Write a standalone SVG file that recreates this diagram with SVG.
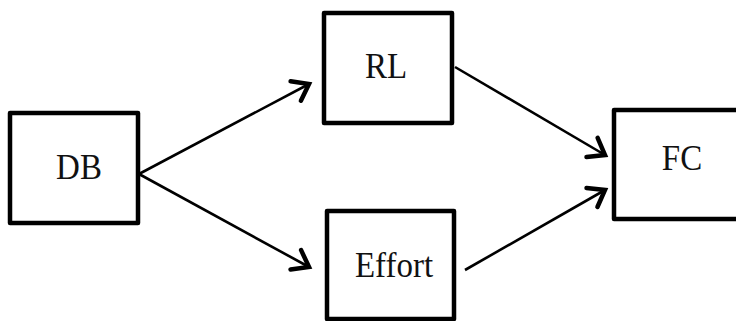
<svg xmlns="http://www.w3.org/2000/svg" width="736" height="321" viewBox="0 0 736 321">
<defs>
<style>
.box{fill:#fff;stroke:#000;stroke-width:4.5;stroke-linejoin:round}
.lbl{font-family:"Liberation Serif","Times New Roman",serif;font-size:33px;fill:#111;text-anchor:middle}
.edge{stroke:#000;stroke-width:2.6;fill:none}
</style>
<marker id="arr" markerUnits="userSpaceOnUse" markerWidth="30" markerHeight="30" viewBox="-20 -15 25 30" refX="0" refY="0" orient="auto">
<path d="M-15,-11 L0,0 L-15,11" fill="none" stroke="#000" stroke-width="4.5" stroke-linecap="round" stroke-linejoin="miter"/>
</marker>
</defs>
<rect width="736" height="321" fill="#fff"/>
<g id="edges">
<line class="edge" x1="139" y1="174" x2="309" y2="84" marker-end="url(#arr)"/>
<line class="edge" x1="139" y1="174" x2="309" y2="267" marker-end="url(#arr)"/>
<line class="edge" x1="455" y1="67" x2="605" y2="155" marker-end="url(#arr)"/>
<line class="edge" x1="465" y1="270" x2="605" y2="190" marker-end="url(#arr)"/>
</g>
<g id="DB"><rect class="box" x="10" y="113" width="128" height="110"/><text class="lbl" x="79" y="179" transform="translate(79 179) scale(1 1.1) translate(-79 -179)">DB</text></g>
<g id="RL"><rect class="box" x="324" y="13" width="128" height="110"/><text class="lbl" x="386" y="78" transform="translate(386 78) scale(1 1.1) translate(-386 -78)">RL</text></g>
<g id="Effort"><rect class="box" x="327" y="211" width="127" height="108"/><text class="lbl" x="394" y="277" transform="translate(394 277) scale(1 1.1) translate(-394 -277)">Effort</text></g>
<g id="FC"><rect class="box" x="614" y="110" width="130" height="109"/><text class="lbl" x="682" y="170" transform="translate(682 170) scale(1 1.1) translate(-682 -170)">FC</text></g>
</svg>
